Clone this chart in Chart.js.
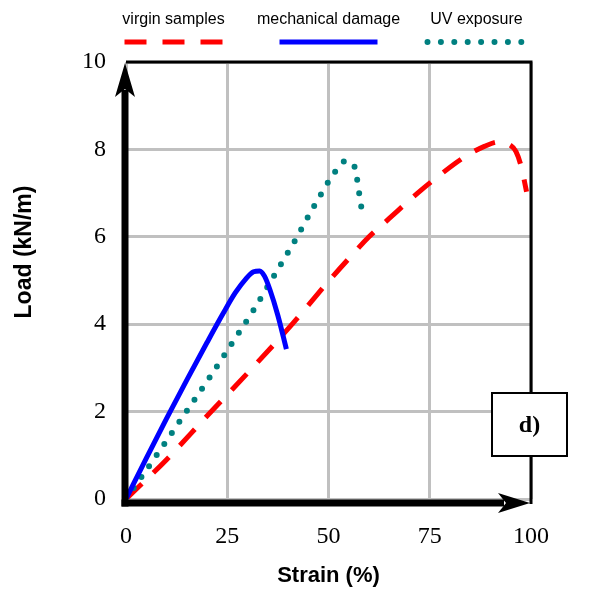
<!DOCTYPE html>
<html>
<head>
<meta charset="utf-8">
<script src="https://cdn.jsdelivr.net/npm/chart.js@4.4.1/dist/chart.umd.min.js"></script>
<style>
  html, body { margin: 0; padding: 0; background: #fff; }
</style>
</head>
<body>
<canvas id="grafico" width="593" height="594"></canvas>
<script>
// --- Dados ---
const seriesNames = ['virgin samples', 'mechanical damage', 'UV exposure'];

const virginStrain = [0, 10, 20, 30, 41.2, 50, 55, 60, 65, 72, 78, 84, 88.5, 92, 94.5, 96.3, 97.6, 98.9];
const virginLoad   = [0, 0.9, 1.9, 2.88, 4.02, 4.98, 5.5, 6.0, 6.42, 7.0, 7.45, 7.85, 8.07, 8.17, 8.12, 7.95, 7.6, 7.03];

const damageStrain = [0, 5, 10, 15, 20, 24, 27, 29.7, 31.5, 33, 34.2, 35.5, 37.5, 39.6];
const damageLoad   = [0, 0.93, 1.84, 2.72, 3.58, 4.25, 4.72, 5.05, 5.2, 5.22, 5.1, 4.8, 4.2, 3.43];

const uvStrain = [0, 3.8, 9.4, 14.9, 20.5, 26, 31.4, 36.5, 41.7, 46.5, 51.8, 54.1, 56.2, 57, 57.5, 58, 58.5];
const uvLoad   = [0, 0.5, 1.25, 2.0, 2.76, 3.54, 4.31, 5.1, 5.91, 6.71, 7.51, 7.73, 7.65, 7.35, 7.04, 6.74, 6.43];

const strainTicks = [0, 25, 50, 75, 100];
const loadTicks = [0, 2, 4, 6, 8, 10];

const xTitle = 'Strain (%)';
const yTitle = 'Load (kN/m)';
const panelLabel = 'd)';

function pares(xs, ys) {
    return xs.map((x, i) => ({ x: x, y: ys[i] }));
}

// estilos das séries
const estilos = [
    { color: '#ff0000', width: 5, dash: [22, 16], cap: 'butt' },
    { color: '#0000ff', width: 5, dash: [], cap: 'butt' },
    { color: '#008080', width: 6, dash: [0, 13.4], cap: 'round' }
];

// =======================
// Plugin: eixos com setas, legenda e caixa "d)"
// =======================
const molduraPlugin = {
    id: 'moldura',
    afterDatasetsDraw(chart) {
        const ctx = chart.ctx;
        const a = chart.chartArea;
        ctx.save();
        ctx.fillStyle = '#000';
        ctx.strokeStyle = '#000';

        // borda superior e direita
        ctx.lineWidth = 3;
        ctx.beginPath();
        ctx.moveTo(a.left, a.top);
        ctx.lineTo(a.right + 1.5, a.top);
        ctx.moveTo(a.right, a.top);
        ctx.lineTo(a.right, a.bottom + 5);
        ctx.stroke();

        // eixo vertical com seta
        ctx.fillRect(a.left - 4.5, a.top + 28, 7, a.bottom + 7.5 - a.top - 28);
        ctx.beginPath();
        ctx.moveTo(a.left - 1, a.top + 1);
        ctx.lineTo(a.left - 11, a.top + 35);
        ctx.lineTo(a.left - 1, a.top + 27);
        ctx.lineTo(a.left + 9, a.top + 35);
        ctx.closePath();
        ctx.fill();

        // eixo horizontal com seta
        ctx.fillRect(a.left - 4.5, a.bottom + 0.5, a.right - 27 - a.left + 4.5, 7);
        ctx.beginPath();
        ctx.moveTo(a.right - 1, a.bottom + 4);
        ctx.lineTo(a.right - 33, a.bottom - 6);
        ctx.lineTo(a.right - 25, a.bottom + 4);
        ctx.lineTo(a.right - 33, a.bottom + 14);
        ctx.closePath();
        ctx.fill();

        // título do eixo y
        ctx.save();
        ctx.translate(25, a.top + 190);
        ctx.rotate(-Math.PI / 2);
        ctx.font = 'bold 23px "Liberation Sans", Arial, sans-serif';
        ctx.textAlign = 'center';
        ctx.textBaseline = 'middle';
        ctx.fillText(yTitle, 0, 0);
        ctx.restore();

        // legenda no topo
        const centro = (a.left + a.right) / 2;
        const centros = [centro - 155, centro, centro + 148];
        ctx.font = '16px "Liberation Sans", Arial, sans-serif';
        ctx.textAlign = 'center';
        ctx.textBaseline = 'middle';
        seriesNames.forEach((nome, i) => {
            const c = centros[i];
            const e = estilos[i];
            ctx.fillStyle = '#000';
            ctx.fillText(nome, c, 20);
            ctx.strokeStyle = e.color;
            ctx.lineWidth = e.width;
            ctx.lineCap = e.cap;
            ctx.setLineDash(e.dash);
            ctx.beginPath();
            ctx.moveTo(c - 49, 42);
            ctx.lineTo(c + 49, 42);
            ctx.stroke();
        });
        ctx.setLineDash([]);
        ctx.lineCap = 'butt';

        // caixa do painel
        const bx = a.right - 39, by = a.bottom - 106, bw = 75, bh = 63;
        ctx.fillStyle = '#fff';
        ctx.fillRect(bx, by, bw, bh);
        ctx.strokeStyle = '#000';
        ctx.lineWidth = 2;
        ctx.strokeRect(bx, by, bw, bh);
        ctx.fillStyle = '#000';
        ctx.font = 'bold 24px "Liberation Serif", "Times New Roman", serif';
        ctx.textAlign = 'center';
        ctx.textBaseline = 'middle';
        ctx.fillText(panelLabel, bx + bw / 2, by + bh / 2 + 1);

        ctx.restore();
    }
};

const ctxGrafico = document.getElementById('grafico').getContext('2d');
const grafico = new Chart(ctxGrafico, {
    type: 'line',
    data: {
        datasets: [
            {
                label: seriesNames[0],
                data: pares(virginStrain, virginLoad),
                borderColor: estilos[0].color,
                borderWidth: estilos[0].width,
                borderDash: estilos[0].dash,
                borderCapStyle: estilos[0].cap,
                cubicInterpolationMode: 'monotone',
                pointRadius: 0,
                fill: false,
                order: 2
            },
            {
                label: seriesNames[1],
                data: pares(damageStrain, damageLoad),
                borderColor: estilos[1].color,
                borderWidth: estilos[1].width,
                cubicInterpolationMode: 'monotone',
                pointRadius: 0,
                fill: false,
                order: 0
            },
            {
                label: seriesNames[2],
                data: pares(uvStrain, uvLoad),
                borderColor: estilos[2].color,
                borderWidth: estilos[2].width,
                borderDash: estilos[2].dash,
                borderCapStyle: estilos[2].cap,
                cubicInterpolationMode: 'monotone',
                pointRadius: 0,
                fill: false,
                order: 1
            }
        ]
    },
    options: {
        responsive: false,
        animation: false,
        layout: { padding: { top: 62, right: 62, left: 0, bottom: 0 } },
        plugins: {
            legend: { display: false },
            tooltip: { enabled: false }
        },
        scales: {
            x: {
                type: 'linear',
                min: strainTicks[0],
                max: strainTicks[strainTicks.length - 1],
                afterBuildTicks: (s) => { s.ticks = strainTicks.map(v => ({ value: v })); },
                afterFit: (s) => { s.height = 95; },
                ticks: {
                    color: '#000',
                    padding: 23,
                    font: { family: '"Liberation Serif", "Times New Roman", serif', size: 24 }
                },
                grid: { color: '#c0c0c0', lineWidth: 3, drawTicks: false },
                border: { display: false },
                title: {
                    display: true,
                    text: xTitle,
                    color: '#000',
                    font: { family: '"Liberation Sans", Arial, sans-serif', size: 22, weight: 'bold' },
                    padding: { top: 0, bottom: 5 }
                }
            },
            y: {
                type: 'linear',
                min: loadTicks[0],
                max: loadTicks[loadTicks.length - 1],
                afterBuildTicks: (s) => { s.ticks = loadTicks.map(v => ({ value: v })); },
                afterFit: (s) => { s.width = 126; },
                ticks: {
                    color: '#000',
                    padding: 20,
                    font: { family: '"Liberation Serif", "Times New Roman", serif', size: 24 }
                },
                grid: { color: '#c0c0c0', lineWidth: 3, drawTicks: false },
                border: { display: false }
            }
        }
    },
    plugins: [molduraPlugin]
});
</script>
</body>
</html>
